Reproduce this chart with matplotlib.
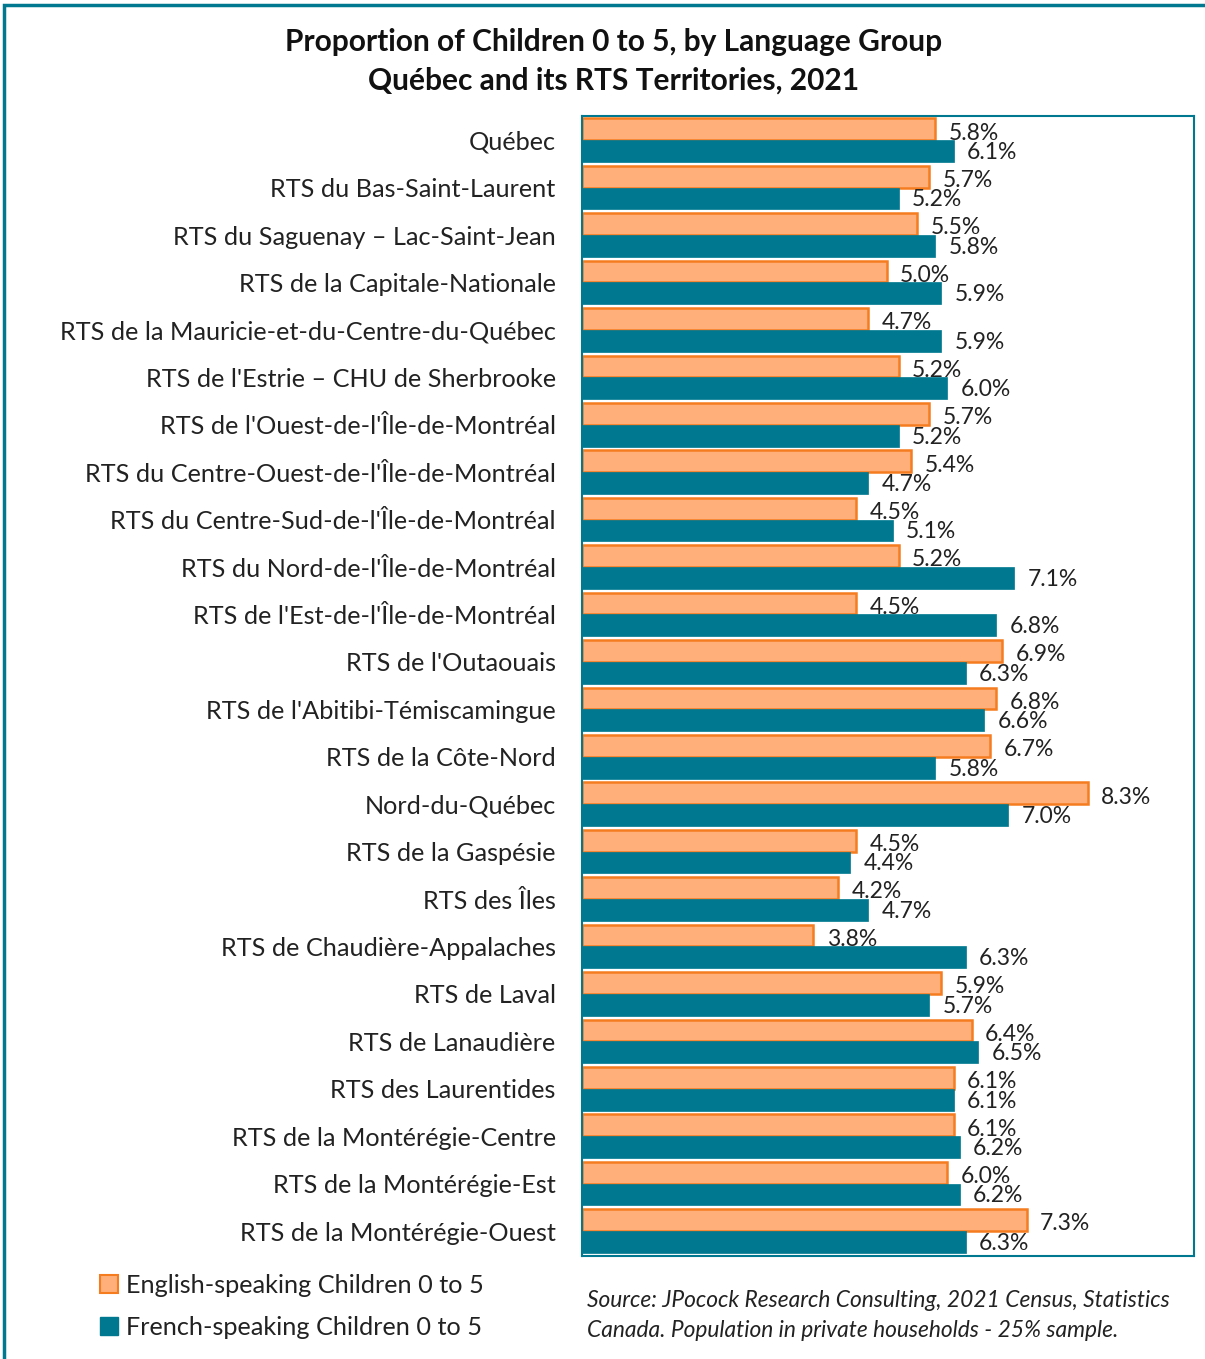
import matplotlib.pyplot as plt
import numpy as np
from matplotlib.patches import Rectangle, Patch

regions = [
    "Québec", "RTS du Bas-Saint-Laurent", "RTS du Saguenay – Lac-Saint-Jean",
    "RTS de la Capitale-Nationale", "RTS de la Mauricie-et-du-Centre-du-Québec",
    "RTS de l'Estrie – CHU de Sherbrooke", "RTS de l'Ouest-de-l'Île-de-Montréal",
    "RTS du Centre-Ouest-de-l'Île-de-Montréal", "RTS du Centre-Sud-de-l'Île-de-Montréal",
    "RTS du Nord-de-l'Île-de-Montréal", "RTS de l'Est-de-l'Île-de-Montréal",
    "RTS de l'Outaouais", "RTS de l'Abitibi-Témiscamingue", "RTS de la Côte-Nord",
    "Nord-du-Québec", "RTS de la Gaspésie", "RTS des Îles",
    "RTS de Chaudière-Appalaches", "RTS de Laval", "RTS de Lanaudière",
    "RTS des Laurentides", "RTS de la Montérégie-Centre", "RTS de la Montérégie-Est",
    "RTS de la Montérégie-Ouest",
]
english = [5.8, 5.7, 5.5, 5.0, 4.7, 5.2, 5.7, 5.4, 4.5, 5.2, 4.5, 6.9,
           6.8, 6.7, 8.3, 4.5, 4.2, 3.8, 5.9, 6.4, 6.1, 6.1, 6.0, 7.3]
french = [6.1, 5.2, 5.8, 5.9, 5.9, 6.0, 5.2, 4.7, 5.1, 7.1, 6.8, 6.3,
          6.6, 5.8, 7.0, 4.4, 4.7, 6.3, 5.7, 6.5, 6.1, 6.2, 6.2, 6.3]

plt.rcParams['font.family'] = ['Lato', 'DejaVu Sans']

teal = '#00788F'
orange_fill = '#FFB07A'
orange_edge = '#F57C1F'

fig = plt.figure(figsize=(12.05, 13.59), dpi=100)
ax = fig.add_axes([0.483, 0.076, 0.508, 0.839])

y = np.arange(len(regions))
h = 0.46
ax.barh(y - h / 2, english, height=h, color=orange_fill, edgecolor=orange_edge, linewidth=1.8)
ax.barh(y + h / 2, french, height=h, color=teal, edgecolor=teal, linewidth=0.5)

for yi, e, f in zip(y, english, french):
    ax.text(e + 0.22, yi - h / 2 + 0.08, f"{e:.1f}%", va='center', ha='left', fontsize=16.5, color='#222222')
    ax.text(f + 0.22, yi + h / 2 + 0.03, f"{f:.1f}%", va='center', ha='left', fontsize=16.5, color='#222222')

ax.set_xlim(0, 10.05)
ax.set_ylim(len(regions) - 0.5 + 0.02, -0.52)
ax.set_yticks(y)
ax.set_yticklabels(regions, fontsize=18.2, color='#222222')
ax.tick_params(axis='y', length=0, pad=19)
ax.set_xticks([])
for s in ax.spines.values():
    s.set_color(teal)
    s.set_linewidth(1.5)

fig.text(0.509, 0.969, "Proportion of Children 0 to 5, by Language Group",
         ha='center', va='center', fontsize=21.5, fontweight='bold', color='#111111')
fig.text(0.509, 0.941, "Québec and its RTS Territories, 2021",
         ha='center', va='center', fontsize=21.5, fontweight='bold', color='#111111')

handles = [Patch(facecolor=orange_fill, edgecolor=orange_edge, linewidth=1.5),
           Patch(facecolor=teal, edgecolor=teal)]
fig.legend(handles, ["English-speaking Children 0 to 5", "French-speaking Children 0 to 5"],
           loc='lower left', bbox_to_anchor=(0.064, -0.002), frameon=False,
           fontsize=18.2, handlelength=0.72, handleheight=0.72, handletextpad=0.3,
           labelspacing=0.75, labelcolor='#222222')

fig.text(0.487, 0.043, "Source: JPocock Research Consulting, 2021 Census, Statistics",
         ha='left', va='center', fontsize=16.4, style='italic', color='#222222')
fig.text(0.487, 0.021, "Canada. Population in private households - 25% sample.",
         ha='left', va='center', fontsize=16.4, style='italic', color='#222222')

fig.patches.append(Rectangle((0.003, -0.01), 1.2, 1.006, transform=fig.transFigure,
                             fill=False, edgecolor=teal, linewidth=2.5))

fig.savefig('out.png', dpi=100)
